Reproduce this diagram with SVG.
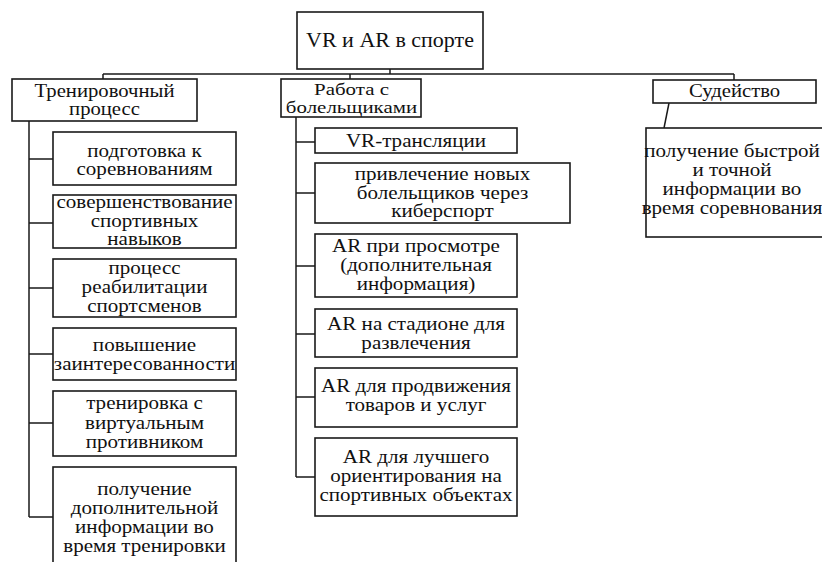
<svg xmlns="http://www.w3.org/2000/svg" width="822" height="562" viewBox="0 0 822 562">
<style>
.b{fill:#fff;stroke:#1a1a1a;stroke-width:1.6}
.c{fill:none;stroke:#1a1a1a;stroke-width:1.5}
text{font-family:"Liberation Serif","Times New Roman",serif;font-size:18px;fill:#111;text-anchor:middle}
.h{font-size:20px}
.s{font-size:17px}
</style>
<rect width="822" height="562" fill="#fff"/>
<g id="connectors">
<path class="c" d="M390,69V74M103,74H734M103,74V79M350,74V79M734,74V80"/>
<path class="c" d="M29,121V517M29,159H53M29,223H53M29,288H53M29,354H53M29,423H53M29,517H53"/>
<path class="c" d="M296,117V477M296,142H315M296,193H315M296,266H315M296,334H315M296,397H315M296,477H315"/>
<path class="c" d="M669,103L664,128"/>
</g>
<g id="root"><rect class="b" x="297" y="12" width="186" height="57"/>
<text class="h" transform="matrix(1.1 0 0 1 390 0)"><tspan x="0" y="47">VR и AR в спорте</tspan></text></g>

<g id="training"><rect class="b" x="12" y="79" width="185" height="42"/>
<text transform="matrix(1.15 0 0 1 104.5 0)"><tspan x="0" y="97">Тренировочный</tspan><tspan x="0" y="115">процесс</tspan></text></g>

<g id="fans"><rect class="b" x="281" y="79" width="140" height="38"/>
<text class="s" transform="matrix(1.23 0 0 1 351.5 0)"><tspan x="0" y="95.5">Работа с</tspan><tspan x="0" y="113.5">болельщиками</tspan></text></g>

<g id="judging"><rect class="b" x="653" y="80" width="163" height="23"/>
<text transform="matrix(1.15 0 0 1 734.5 0)"><tspan x="0" y="97">Судейство</tspan></text></g>

<g id="j1"><rect class="b" x="646" y="128" width="190" height="109"/>
<text transform="matrix(1.17 0 0 1 732 0)"><tspan x="0" y="157">получение быстрой</tspan><tspan x="0" y="176">и точной</tspan><tspan x="0" y="195">информации во</tspan><tspan x="0" y="214">время соревнования</tspan></text></g>

<g id="t1"><rect class="b" x="53" y="132" width="183" height="53"/>
<text transform="matrix(1.17 0 0 1 144.5 0)"><tspan x="0" y="157">подготовка к</tspan><tspan x="0" y="175">соревнованиям</tspan></text></g>
<g id="t2"><rect class="b" x="53" y="195" width="183" height="53"/>
<text transform="matrix(1.17 0 0 1 144.5 0)"><tspan x="0" y="208">совершенствование</tspan><tspan x="0" y="227">спортивных</tspan><tspan x="0" y="245">навыков</tspan></text></g>
<g id="t3"><rect class="b" x="53" y="259" width="183" height="58"/>
<text transform="matrix(1.17 0 0 1 144.5 0)"><tspan x="0" y="274">процесс</tspan><tspan x="0" y="293">реабилитации</tspan><tspan x="0" y="312">спортсменов</tspan></text></g>
<g id="t4"><rect class="b" x="53" y="328" width="183" height="52"/>
<text transform="matrix(1.17 0 0 1 144.5 0)"><tspan x="0" y="351">повышение</tspan><tspan x="0" y="370">заинтересованности</tspan></text></g>
<g id="t5"><rect class="b" x="53" y="391" width="183" height="65"/>
<text transform="matrix(1.17 0 0 1 144.5 0)"><tspan x="0" y="409">тренировка с</tspan><tspan x="0" y="429">виртуальным</tspan><tspan x="0" y="448">противником</tspan></text></g>
<g id="t6"><rect class="b" x="53" y="467" width="183" height="110"/>
<text transform="matrix(1.17 0 0 1 144.5 0)"><tspan x="0" y="495">получение</tspan><tspan x="0" y="514">дополнительной</tspan><tspan x="0" y="533">информации во</tspan><tspan x="0" y="552">время тренировки</tspan></text></g>

<g id="f1"><rect class="b" x="315" y="128" width="202" height="25"/>
<text transform="matrix(1.17 0 0 1 416 0)"><tspan x="0" y="147">VR-трансляции</tspan></text></g>
<g id="f2"><rect class="b" x="315" y="163" width="255" height="60"/>
<text transform="matrix(1.17 0 0 1 442.5 0)"><tspan x="0" y="180">привлечение новых</tspan><tspan x="0" y="199">болельщиков через</tspan><tspan x="0" y="217">киберспорт</tspan></text></g>
<g id="f3"><rect class="b" x="315" y="234" width="202" height="63"/>
<text transform="matrix(1.17 0 0 1 416 0)"><tspan x="0" y="252">AR при просмотре</tspan><tspan x="0" y="271">(дополнительная</tspan><tspan x="0" y="290">информация)</tspan></text></g>
<g id="f4"><rect class="b" x="315" y="309" width="202" height="48"/>
<text transform="matrix(1.17 0 0 1 416 0)"><tspan x="0" y="330">AR на стадионе для</tspan><tspan x="0" y="349">развлечения</tspan></text></g>
<g id="f5"><rect class="b" x="315" y="368" width="202" height="59"/>
<text transform="matrix(1.17 0 0 1 416 0)"><tspan x="0" y="392">AR для продвижения</tspan><tspan x="0" y="411">товаров и услуг</tspan></text></g>
<g id="f6"><rect class="b" x="315" y="438" width="202" height="78"/>
<text transform="matrix(1.17 0 0 1 416 0)"><tspan x="0" y="463">AR для лучшего</tspan><tspan x="0" y="482">ориентирования на</tspan><tspan x="0" y="501">спортивных объектах</tspan></text></g>
</svg>
